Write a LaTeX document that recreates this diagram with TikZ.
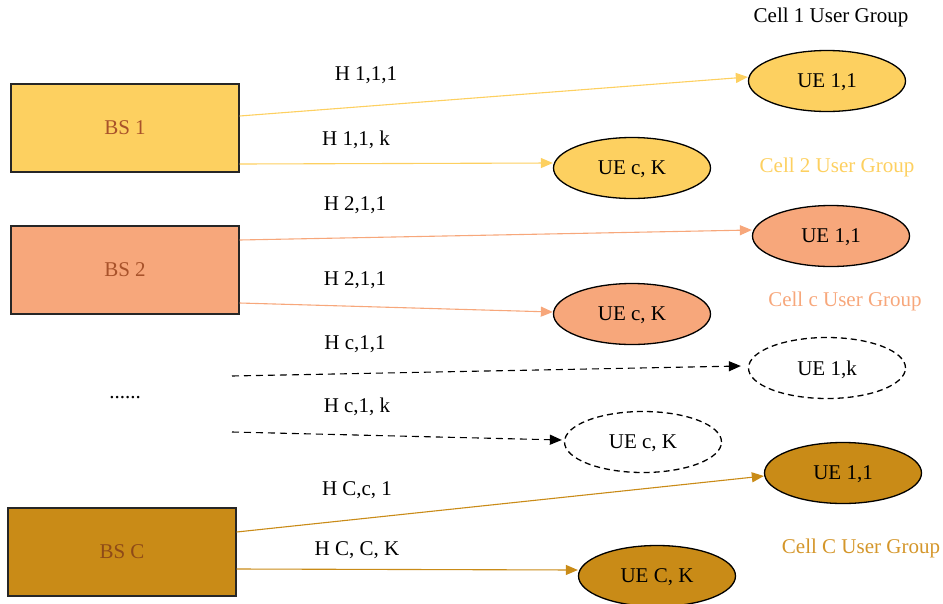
\documentclass[tikz,border=0pt]{standalone}
\usepackage{fontspec}
\setmainfont{Liberation Serif}
\usetikzlibrary{arrows.meta,shapes.geometric}
\definecolor{cyel}{HTML}{FDD060}
\definecolor{csal}{HTML}{F7A77B}
\definecolor{cgold}{HTML}{C98B17}
\definecolor{cgoldtxt}{HTML}{D4962A}
\definecolor{bstxt}{HTML}{A8522A}
\definecolor{bstxtdark}{HTML}{8E4A18}
\tikzset{
  bsbox/.style={draw=black!85, line width=1.3pt, minimum width=228pt, minimum height=88pt, inner sep=0pt, font=\fontsize{21}{25}\selectfont},
  ue/.style={ellipse, draw=black, line width=1.3pt, minimum width=157pt, minimum height=61pt, inner sep=0pt, text depth=0pt, font=\fontsize{21}{25}\selectfont},
  uedash/.style={ue, dashed, dash pattern=on 6pt off 4pt},
  lbl/.style={font=\fontsize{21}{25}\selectfont, inner sep=0pt},
  link/.style={line width=1.1pt, -{Triangle[length=12pt,width=10pt]}},
  dlink/.style={link, draw=black, dash pattern=on 7pt off 5pt},
}
\begin{document}
\begin{tikzpicture}[x=1pt,y=-1pt]
\useasboundingbox (0,0) rectangle (943,603);
% base stations
\node[bsbox, fill=cyel, text=bstxt] (bs1) at (125,128) {BS 1};
\node[bsbox, fill=csal, text=bstxt] (bs2) at (125,270) {BS 2};
\node[bsbox, fill=cgold, text=bstxtdark] (bsc) at (122,552) {BS C};
\node[lbl] (dots) at (125,398) {......};
% user equipment
\node[ue, fill=cyel] (u11a) at (827,81) {UE 1,1};
\node[ue, fill=cyel] (ucka) at (632,168) {UE c, K};
\node[ue, fill=csal] (u11b) at (831,236) {UE 1,1};
\node[ue, fill=csal] (uckb) at (632,314) {UE c, K};
\node[uedash] (u1k) at (827,368) {UE 1,k};
\node[uedash] (uckd) at (643,442) {UE c, K};
\node[ue, fill=cgold] (u11c) at (843,473) {UE 1,1};
\node[ue, fill=cgold] (uCK) at (657,576) {UE C, K};
% group labels
\node[lbl] (g1) at (831,17) {Cell 1 User Group};
\node[lbl, text=cyel] (g2) at (837,167) {Cell 2 User Group};
\node[lbl, text=csal] (gc) at (845,301) {Cell c User Group};
\node[lbl, text=cgoldtxt] (gC) at (861,548) {Cell C User Group};
% links
\draw[link, cyel] ([yshift=12pt]bs1.east) -- ([yshift=4pt]u11a.west);
\draw[link, cyel] ([yshift=-36pt]bs1.east) -- ([yshift=5pt]ucka.west);
\draw[link, csal] ([yshift=30pt]bs2.east) -- ([yshift=6pt]u11b.west);
\draw[link, csal] ([yshift=-33pt]bs2.east) -- ([yshift=2pt]uckb.west);
\coordinate (d1) at (232,376);
\coordinate (d2) at (232,432);
\draw[dlink] (d1) -- ([xshift=-7pt,yshift=2pt]u1k.west);
\draw[dlink] (d2) -- ([xshift=-2pt,yshift=2pt]uckd.west);
\draw[link, cgold] ([yshift=20pt]bsc.east) -- ([yshift=-3pt]u11c.west);
\draw[link, cgold] ([yshift=-17pt]bsc.east) -- ([yshift=6pt]uCK.west);
% channel labels
\node[lbl] (h1) at (366,75) {H 1,1,1};
\node[lbl] (h2) at (356,140) {H 1,1, k};
\node[lbl] (h3) at (355,205) {H 2,1,1};
\node[lbl] (h4) at (355,280) {H 2,1,1};
\node[lbl] (h5) at (355,344) {H c,1,1};
\node[lbl] (h6) at (357,407) {H c,1, k};
\node[lbl] (h7) at (357,490) {H C,c, 1};
\node[lbl] (h8) at (357,550) {H C, C, K};
\end{tikzpicture}
\end{document}
